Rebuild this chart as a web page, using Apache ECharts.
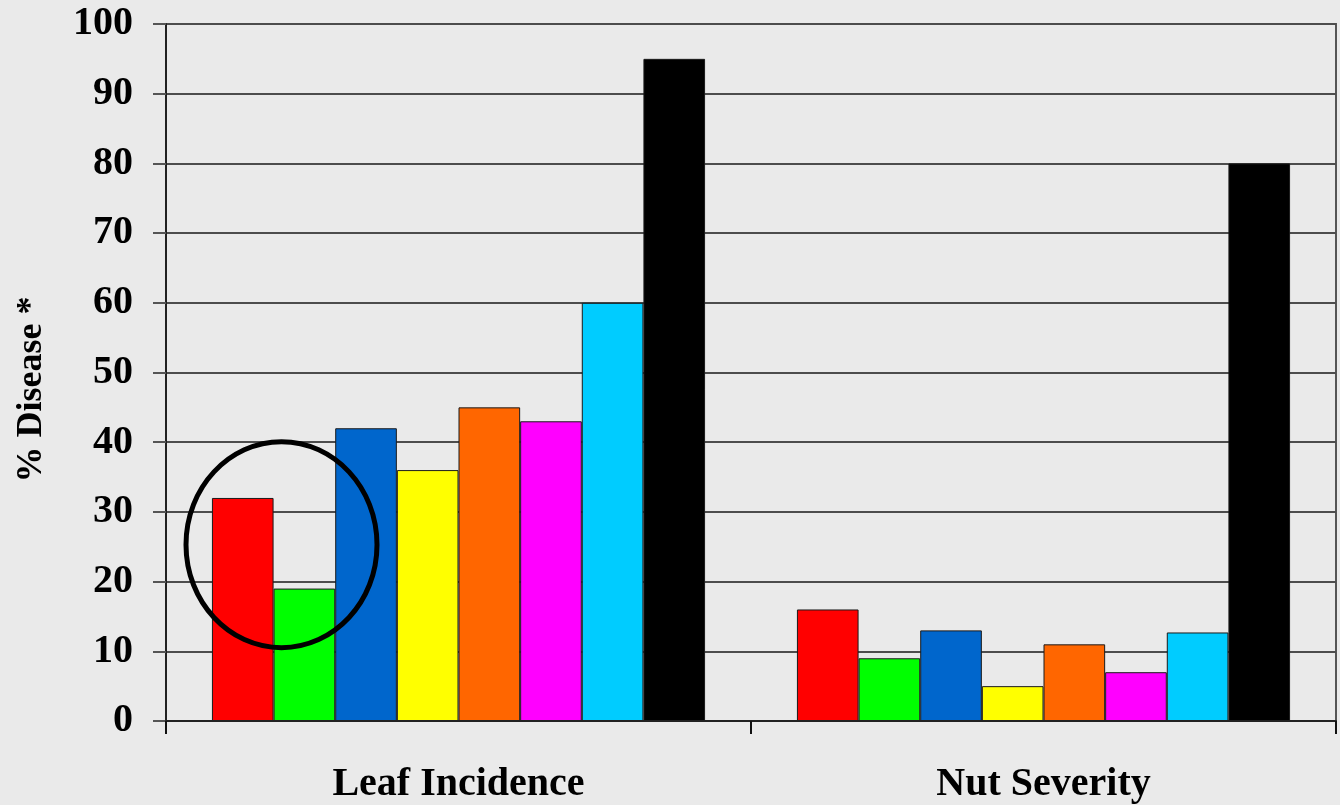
<!DOCTYPE html>
<html>
<head>
<meta charset="utf-8">
<script src="https://cdn.jsdelivr.net/npm/echarts@6/dist/echarts.min.js"></script>
<style>
  html, body { margin: 0; padding: 0; background: #EAEAEA; }
  #chart { width: 1340px; height: 805px; }
</style>
</head>
<body>
<div id="chart"></div>
<script>
// Disease levels per treatment, grouped by assessment
const categories = ['Leaf Incidence', 'Nut Severity'];
const treatmentNames = ['T1', 'T2', 'T3', 'T4', 'T5', 'T6', 'T7', 'T8'];
const treatmentColors = ['#FF0000', '#00FF00', '#0066CC', '#FFFF00', '#FF6600', '#FF00FF', '#00CCFF', '#000000'];
const leafIncidence = [32, 19, 42, 36, 45, 43, 60, 95];
const nutSeverity = [16, 9, 13, 5, 11, 7, 12.7, 80];
const yTicks = { min: 0, max: 100, interval: 10 };

const font = '"Liberation Serif", "Times New Roman", serif';

const series = treatmentNames.map((name, i) => ({
  name: name,
  type: 'bar',
  data: [leafIncidence[i], nutSeverity[i]],
  barGap: '0%',
  barCategoryGap: '15.7%',
  itemStyle: { color: treatmentColors[i], borderColor: '#1a1a1a', borderWidth: 1 }
}));

const chart = echarts.init(document.getElementById('chart'), null, { renderer: 'canvas' });
chart.setOption({
  backgroundColor: '#EAEAEA',
  animation: false,
  grid: {
    left: 166, right: 4, top: 24, bottom: 84,
    show: true, borderColor: '#555', borderWidth: 2, backgroundColor: 'transparent'
  },
  xAxis: {
    type: 'category',
    data: categories,
    axisLine: { lineStyle: { color: '#222', width: 2 } },
    axisTick: { show: true, length: 13, lineStyle: { color: '#111', width: 2 } },
    axisLabel: { fontFamily: font, fontWeight: 'bold', fontSize: 40, color: '#000', margin: 44 },
    z: 5
  },
  yAxis: {
    type: 'value',
    min: yTicks.min, max: yTicks.max, interval: yTicks.interval,
    name: '% Disease *',
    nameLocation: 'middle',
    nameGap: 116,
    nameTextStyle: {
      fontFamily: font, fontWeight: 'bold', fontSize: 36, color: '#000',
      padding: [0, 34, 0, 0]
    },
    axisLine: { show: true, lineStyle: { color: '#222', width: 2 } },
    axisTick: { show: true, length: 13, lineStyle: { color: '#555', width: 2 } },
    axisLabel: { fontFamily: font, fontWeight: 'bold', fontSize: 40, color: '#000', margin: 33 },
    splitLine: { show: true, lineStyle: { color: '#4d4d4d', width: 2 } }
  },
  series: series
});

// Annotation ring around the first two leaf-incidence bars
function drawRing() {
  const c = chart.convertToPixel({ gridIndex: 0 }, [0, 25.3]);
  const cx = c[0] - 177;
  chart.setOption({
    graphic: [{
      type: 'ellipse',
      shape: { cx: cx, cy: c[1], rx: 95.5, ry: 103 },
      style: { fill: 'none', stroke: '#000', lineWidth: 5 },
      z: 100
    }]
  });
}
drawRing();
</script>
</body>
</html>
